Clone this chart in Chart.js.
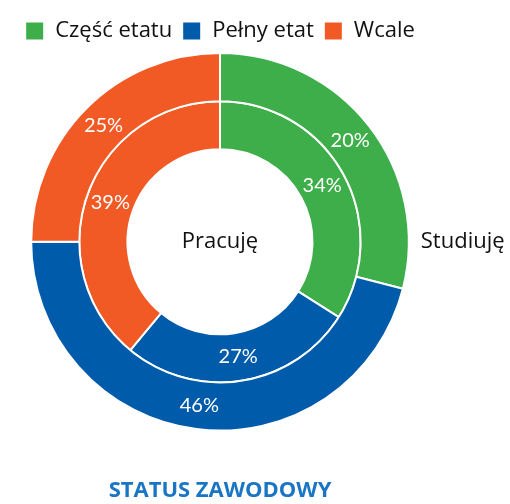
<!DOCTYPE html>
<html lang="pl">
<head>
<meta charset="UTF-8">
<title>Status zawodowy</title>
<script src="https://cdn.jsdelivr.net/npm/chart.js@4.4.0/dist/chart.umd.min.js"></script>
<style>
  html, body { margin: 0; padding: 0; background: #fff; }
  #wrap { width: 510px; height: 504px; }
</style>
</head>
<body>
<div id="wrap"><canvas id="myChart" width="510" height="504"></canvas></div>
<script>
// data
var categories = ["Część etatu", "Pełny etat", "Wcale"];
var studiujeValues = [29, 46, 25];          // outer ring (arc sizes)
var studiujeLabels = ["20%", "46%", "25%"]; // printed on the outer ring
var pracujeValues = [34, 27, 39];           // inner ring
var pracujeLabels = ["34%", "27%", "39%"];
var ringNames = ["Studiuję", "Pracuję"];
var colors = ["#3dae49", "#005baa", "#f15a24"];

// draws the % labels on the arcs and the ring names
var ringText = {
  id: "ringText",
  afterDatasetsDraw: function(chart) {
    var ctx = chart.ctx
    ctx.save()
    ctx.textAlign = "center"
    ctx.textBaseline = "middle"
    chart.data.datasets.forEach(function(ds, i) {
      var meta = chart.getDatasetMeta(i)
      ctx.font = "20px Lato"
      ctx.fillStyle = "#ffffff"
      meta.data.forEach(function(arc, j) {
        var p = arc.tooltipPosition()
        ctx.fillText(ds.pctLabels[j], p.x, p.y)
      })
    })
    var a0 = chart.getDatasetMeta(0).data[0]
    var a1 = chart.getDatasetMeta(1).data[0]
    ctx.font = "22px 'Open Sans'"
    ctx.fillStyle = "#111111"
    ctx.fillText(chart.data.datasets[1].label, a1.x, a1.y)
    ctx.textAlign = "left"
    ctx.fillText(chart.data.datasets[0].label, a0.x + a0.outerRadius + 12, a0.y)
    ctx.restore()
  }
}

new Chart("myChart", {
  type: "doughnut",
  data: {
    labels: categories,
    datasets: [
      { label: ringNames[0], data: studiujeValues, pctLabels: studiujeLabels,
        backgroundColor: colors, borderColor: "#ffffff", borderWidth: 2 },
      { label: ringNames[1], data: pracujeValues, pctLabels: pracujeLabels,
        backgroundColor: colors, borderColor: "#ffffff", borderWidth: 2 }
    ]
  },
  options: {
    responsive: false,
    animation: false,
    cutout: "49%",
    layout: { padding: { left: 0, right: 70, top: 10, bottom: 0 } },
    plugins: {
      legend: {
        position: "top",
        labels: {
          font: { family: "Open Sans", size: 22 },
          color: "#111111",
          boxWidth: 19,
          boxHeight: 19,
          padding: 10
        }
      },
      title: {
        display: true,
        position: "bottom",
        text: "STATUS ZAWODOWY",
        color: "#1a75c4",
        font: { family: "Open Sans", size: 22, weight: "bold" },
        padding: { top: 46, bottom: 0 }
      },
      tooltip: { enabled: false }
    }
  },
  plugins: [ringText]
});
</script>
</body>
</html>
